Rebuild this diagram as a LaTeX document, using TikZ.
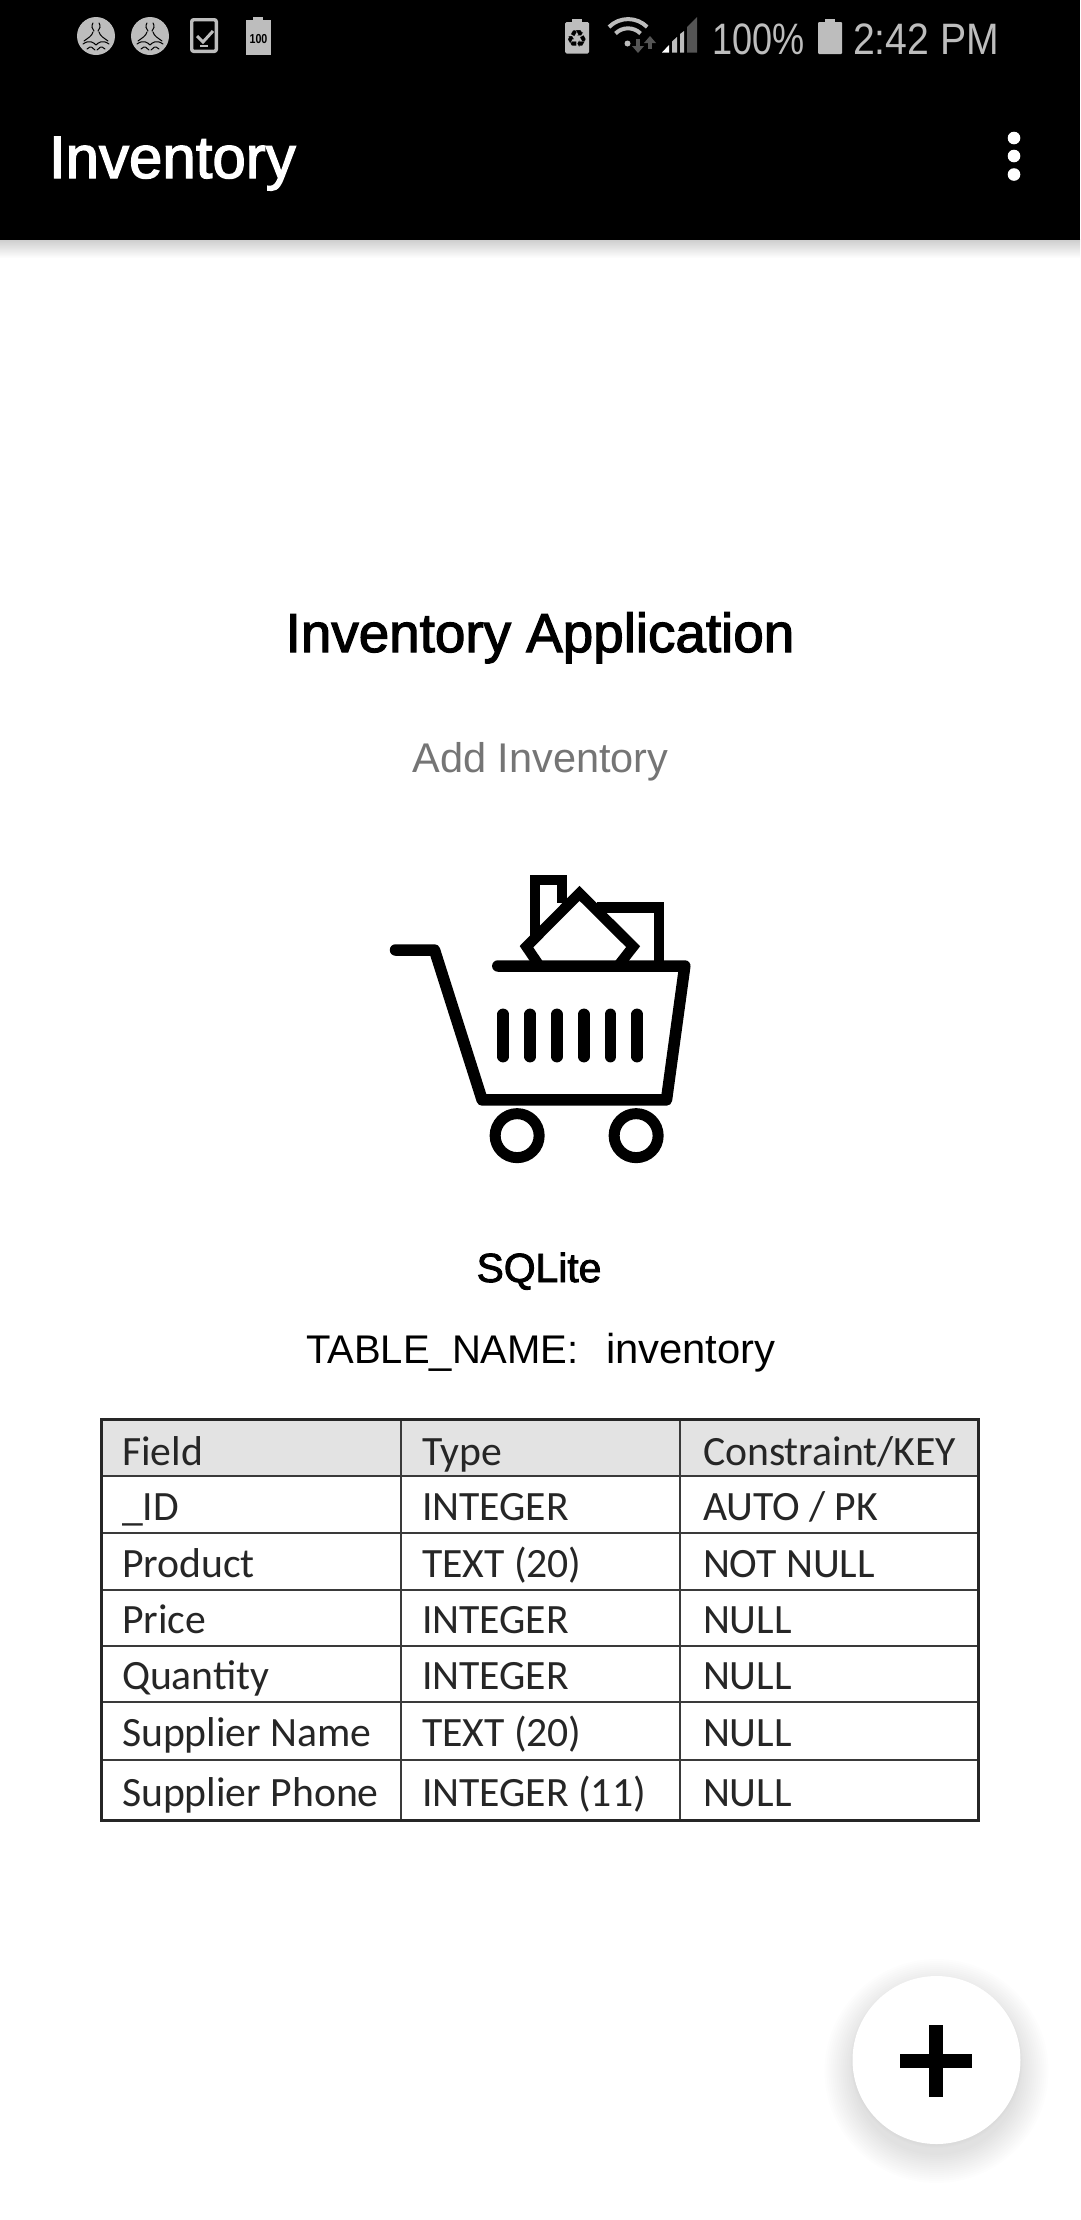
\documentclass[tikz,border=0pt]{standalone}
\usepackage{fontspec}
\setmainfont{Liberation Sans}
\newfontfamily\medfont[FakeBold=2.2]{Liberation Sans}
\newfontfamily\statfont[FakeStretch=0.82]{Liberation Sans}
\newfontfamily\clockfont[FakeStretch=0.89]{Liberation Sans}
\newfontfamily\tabfont{Carlito}
\newfontfamily\symfont{DejaVu Sans}
\definecolor{statgray}{HTML}{BDBDBD}
\definecolor{hintgray}{HTML}{757575}
\definecolor{headgray}{HTML}{E3E3E3}
\definecolor{rulegray}{HTML}{3A3A3A}
\definecolor{signaldark}{HTML}{555555}
\tikzset{
  x=1pt,y=-1pt,
  txt/.style={inner sep=0pt,outer sep=0pt,anchor=base west},
  ctr/.style={inner sep=0pt,outer sep=0pt,anchor=base},
  cell/.style={txt,font=\tabfont\fontsize{41.7}{44}\selectfont,text=black!85},
  stat/.style={txt,font=\statfont\fontsize{44}{47}\selectfont,text=statgray},
  clock/.style={txt,font=\clockfont\fontsize{44}{47}\selectfont,text=statgray},
  cartline/.style={line width=11.5pt,black,line cap=round,line join=round},
  boxline/.style={line width=10.5pt,black,line cap=butt,line join=miter},
  wheel/.style={line width=11pt,black},
  inner rule/.style={line width=1.5pt,rulegray},
  outer rule/.style={line width=3pt,black!85},
}
\newcommand{\personicon}[2]{%
  \begin{scope}[shift={(#1,#2)}]
    \fill[statgray] (0,0) ellipse [x radius=19,y radius=19];
    \draw[black,line width=1pt,line cap=round]
      (-3,-13) .. controls (-5,-10) and (-4,-7) .. (-2,-5)
      (3,-13) .. controls (5,-10) and (4,-7) .. (2,-5)
      (-3,-4) .. controls (-4,0) and (-8,2) .. (-12,5)
      (3,-4) .. controls (4,0) and (8,2) .. (12,5)
      (-13,8) .. controls (-6,3) and (-2,7) .. (0,9)
      (13,8) .. controls (6,3) and (2,7) .. (0,9)
      (-9,13) .. controls (-5,9) and (-3,12) .. (-1,14)
      (9,13) .. controls (5,9) and (3,12) .. (1,14);
  \end{scope}}
\begin{document}
\begin{tikzpicture}
\useasboundingbox (0,0) rectangle (1080,2220);
\fill[white] (0,0) rectangle (1080,2220);
% app bar
\shade[top color=black!20,bottom color=white] (0,239) rectangle (1080,258);
\fill[black] (0,0) rectangle (1080,240);
% status bar, left
\personicon{96}{36}
\personicon{150}{36}
\draw[statgray,line width=3.4pt,rounded corners=2pt] (191.7,19.7) rectangle (216.3,51.3);
\draw[statgray,line width=3pt] (197,36) -- (203,42) -- (213,31);
\fill[statgray] (200,44.5) rectangle (208,47);
\fill[statgray] (246,20) rectangle (271,55);
\fill[statgray] (253,17) rectangle (263,20);
\node[ctr,font=\statfont\bfseries\fontsize{13}{14}\selectfont,text=black] (batlabel) at (258.5,43) {100};
% status bar, right
\fill[statgray,rounded corners=1.5pt] (565,22) rectangle (589,53.5);
\fill[statgray] (572,18.5) rectangle (582,23);
\node[ctr,font=\symfont\fontsize{24}{26}\selectfont,text=black] (recycle) at (577,47) {♻};
\draw[statgray,line width=4pt] (609,27) arc[start angle=-135,end angle=-45,radius=27];
\draw[statgray,line width=4pt] (615.5,33.5) arc[start angle=-135,end angle=-45,radius=17.7];
\fill[statgray] (627.5,43.5) circle (3);
\fill[signaldark] (636,39) rectangle (640,47);
\fill[signaldark] (632,46) -- (644,46) -- (638,53) -- cycle;
\fill[signaldark] (648,41) rectangle (652,49);
\fill[signaldark] (644,43) -- (656,43) -- (650,36) -- cycle;
\fill[white] (662,52.5) -- (669,45) -- (669,52.5) -- cycle;
\fill[statgray] (672,41.5) -- (677,37) -- (677,52.5) -- (672,52.5) -- cycle;
\fill[statgray] (680,34) -- (684,31) -- (684,52.5) -- (680,52.5) -- cycle;
\fill[signaldark] (687,27) -- (697,17) -- (697,52.5) -- (687,52.5) -- cycle;
\node[stat] (pct) at (712,54) {100\%};
\fill[statgray,rounded corners=1pt] (818,22) rectangle (842,54);
\fill[statgray] (825,18.5) rectangle (835,23);
\node[clock] (clocktext) at (853,54) {2:42 PM};
% app bar content
\node[txt,font=\medfont\fontsize{60}{64}\selectfont,text=white] (apptitle) at (49,178) {Inventory};
\fill[white] (1014,138) circle (6.3) (1014,156) circle (6.3) (1014,174.5) circle (6.3);
% headings
\node[ctr,font=\medfont\fontsize{54.8}{58}\selectfont] (heading) at (540,652) {Inventory Application};
\node[ctr,font=\fontsize{41.5}{44}\selectfont,text=hintgray] (hint) at (540.5,772) {Add Inventory};
\node[ctr,font=\medfont\fontsize{40.8}{44}\selectfont] (sqlite) at (539,1282) {SQLite};
\node[txt,font=\fontsize{40}{44}\selectfont] (tablename) at (306,1363) {TABLE\_NAME:};
\node[txt,font=\fontsize{41.8}{44}\selectfont] (tablevalue) at (606,1363) {inventory};
% cart
\begin{scope}[shift={(360.5,850)},x=0.3333pt,y=-0.3333pt]
  \draw[boxline] (524,265) -- (524,90) -- (605,90) -- (605,160);
  \draw[boxline] (710,172) -- (895,172) -- (895,335);
  \draw[boxline] (535,345) -- (498,290) -- (657,130) -- (818,290) -- (775,345);
  \draw[cartline] (105,300) -- (222,300) -- (365,750) -- (918,750) -- (973,348) -- (412,348);
  \foreach \bx in {428,509,589,670,750,830}
    \draw[cartline] (\bx,493) -- (\bx,620);
  \draw[wheel] (470,857) circle (66);
  \draw[wheel] (827,857) circle (66);
\end{scope}
% table
\fill[headgray] (101,1419) rectangle (979,1476);
\foreach \ry in {1476,1533,1590,1646,1702,1760}
  \draw[inner rule] (101,\ry) -- (979,\ry);
\draw[inner rule] (401,1419) -- (401,1820);
\draw[inner rule] (680,1419) -- (680,1820);
\draw[outer rule] (101,1419) rectangle (978,1820);
\node[cell] (f0) at (122,1465) {Field};
\node[cell] (t0) at (422,1465) {Type};
\node[cell] (k0) at (703,1465) {Constraint/KEY};
\node[cell] (f1) at (122,1520) {\_ID};
\node[cell] (t1) at (422,1520) {INTEGER};
\node[cell] (k1) at (703,1520) {AUTO / PK};
\node[cell] (f2) at (122,1577) {Product};
\node[cell] (t2) at (422,1577) {TEXT (20)};
\node[cell] (k2) at (703,1577) {NOT NULL};
\node[cell] (f3) at (122,1633) {Price};
\node[cell] (t3) at (422,1633) {INTEGER};
\node[cell] (k3) at (703,1633) {NULL};
\node[cell] (f4) at (122,1689) {Quantity};
\node[cell] (t4) at (422,1689) {INTEGER};
\node[cell] (k4) at (703,1689) {NULL};
\node[cell] (f5) at (122,1746) {Supplier Name};
\node[cell] (t5) at (422,1746) {TEXT (20)};
\node[cell] (k5) at (703,1746) {NULL};
\node[cell] (f6) at (122,1806) {Supplier Phone};
\node[cell] (t6) at (422,1806) {INTEGER (11)};
\node[cell] (k6) at (703,1806) {NULL};
% floating button
\foreach \rr in {84,86,...,112}
  \fill[black,opacity=0.008] (936.5,2071) circle (\rr);
\foreach \rr in {84,85,86}
  \fill[black,opacity=0.008] (936.5,2062) circle (\rr);
\fill[white] (936.5,2060) circle (84);
\fill[black] (900,2054) rectangle (972,2068);
\fill[black] (929,2025) rectangle (943,2097);
\end{tikzpicture}
\end{document}
